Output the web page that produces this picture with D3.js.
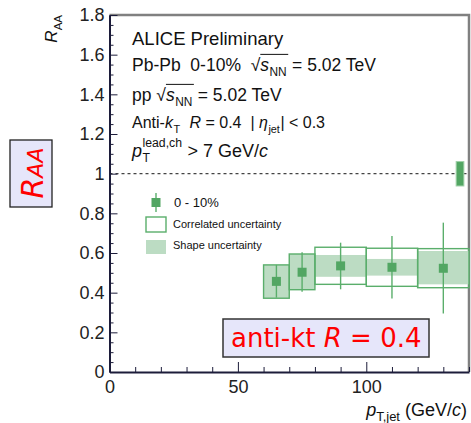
<!DOCTYPE html>
<html>
<head>
<meta charset="UTF-8">
<title>RAA anti-kt R=0.4</title>
<script src="https://d3js.org/d3.v7.min.js"></script>
<style>
  body { margin: 0; background: #fff; }
  text { font-family: "Liberation Sans", Arial, sans-serif; }
</style>
</head>
<body>
<div id="chart"></div>
<script>
// bins in pT,jet (GeV/c)
const binLo   = [60, 70, 80, 100, 120];
const binHi   = [70, 80, 100, 120, 140];
const binMid  = [65, 75, 90, 110, 130];
const raa     = [0.457, 0.503, 0.535, 0.528, 0.523];
// statistical error bars
const statLo  = [0.375, 0.405, 0.417, 0.370, 0.295];
const statHi  = [0.540, 0.604, 0.652, 0.686, 0.753];
// correlated uncertainty (open boxes)
const corrLo  = [0.372, 0.415, 0.442, 0.432, 0.425];
const corrHi  = [0.540, 0.595, 0.629, 0.624, 0.622];
// shape uncertainty (filled boxes)
const shapeLo = [0.372, 0.415, 0.480, 0.486, 0.442];
const shapeHi = [0.540, 0.595, 0.590, 0.570, 0.610];
// normalisation uncertainty at unity
const normX   = [135, 138];
const normY   = [0.938, 1.061];

const yTicks = [0, 0.2, 0.4, 0.6, 0.8, 1, 1.2, 1.4, 1.6, 1.8];
const xTicks = [0, 50, 100];

const W = 471, H = 423;
const green = "#52a663", greenLine = "#5aae6b", greenFill = "#bcdcc3";

const svg = d3.select("#chart").append("svg")
    .attr("width", W).attr("height", H);

const x = d3.scaleLinear().domain([0, 140]).range([109.5, 469]);
const y = d3.scaleLinear().domain([0, 1.8]).range([372, 15]);

// frame top / right
svg.append("path")
    .attr("d", `M${x(0)},${y(1.8)}H${x(140)}V${y(0)}`)
    .attr("fill", "none").attr("stroke", "#808080").attr("stroke-width", 2.5);

// dotted unity line
svg.append("line")
    .attr("x1", x(0)).attr("x2", x(140)).attr("y1", y(1)).attr("y2", y(1))
    .attr("stroke", "#444").attr("stroke-width", 1.3).attr("stroke-dasharray", "3,3");

// axes
const fmtY = d => d === 0 ? "0" : d === 1 ? "1" : d.toFixed(1);
const yMinor = d3.range(0, 1.8001, 0.05).filter(v => Math.abs(v * 5 - Math.round(v * 5)) > 1e-6);
const xMinor = d3.range(0, 141, 10).filter(v => v % 50 !== 0);

svg.append("g").attr("transform", `translate(${x(0)},0)`)
    .call(d3.axisLeft(y).tickValues(yMinor).tickSize(-4).tickSizeOuter(0).tickFormat(""))
    .call(g => g.select(".domain").remove());
const gy = svg.append("g").attr("transform", `translate(${x(0)},0)`)
    .call(d3.axisLeft(y).tickValues(yTicks).tickSizeInner(-8).tickSizeOuter(0).tickPadding(5).tickFormat(fmtY));
gy.selectAll("text").attr("font-size", 18).attr("fill", "#222").style("font-family", "Liberation Sans, Arial, sans-serif");

svg.append("g").attr("transform", `translate(0,${y(0)})`)
    .call(d3.axisBottom(x).tickValues(xMinor).tickSize(-5).tickSizeOuter(0).tickFormat(""))
    .call(g => g.select(".domain").remove());
const gx = svg.append("g").attr("transform", `translate(0,${y(0)})`)
    .call(d3.axisBottom(x).tickValues(xTicks).tickSizeInner(-10).tickSizeOuter(0).tickPadding(8));
gx.selectAll("text").attr("font-size", 18).attr("fill", "#222").style("font-family", "Liberation Sans, Arial, sans-serif");

svg.selectAll(".tick line").attr("stroke", "#1c1c3a").attr("stroke-width", 1);
svg.selectAll(".domain").attr("stroke", "#1c1c3a").attr("stroke-width", 2);

// data marks
const idx = d3.range(binMid.length);
svg.append("g").selectAll("rect").data(idx).join("rect")
    .attr("x", i => x(binLo[i])).attr("width", i => x(binHi[i]) - x(binLo[i]))
    .attr("y", i => y(shapeHi[i])).attr("height", i => y(shapeLo[i]) - y(shapeHi[i]))
    .attr("fill", greenFill);
svg.append("g").selectAll("rect").data(idx).join("rect")
    .attr("x", i => x(binLo[i])).attr("width", i => x(binHi[i]) - x(binLo[i]))
    .attr("y", i => y(corrHi[i])).attr("height", i => y(corrLo[i]) - y(corrHi[i]))
    .attr("fill", "none").attr("stroke", greenLine).attr("stroke-width", 1.4);
svg.append("g").selectAll("line").data(idx).join("line")
    .attr("x1", i => x(binMid[i])).attr("x2", i => x(binMid[i]))
    .attr("y1", i => y(statLo[i])).attr("y2", i => y(statHi[i]))
    .attr("stroke", greenLine).attr("stroke-width", 1.4);
svg.append("g").selectAll("rect").data(idx).join("rect")
    .attr("x", i => x(binMid[i]) - 4.5).attr("y", i => y(raa[i]) - 4.5)
    .attr("width", 9).attr("height", 9).attr("fill", green);

svg.append("rect")
    .attr("x", x(normX[0])).attr("width", x(normX[1]) - x(normX[0]))
    .attr("y", y(normY[1])).attr("height", y(normY[0]) - y(normY[1]))
    .attr("fill", green).attr("stroke", "#9fd0a8").attr("stroke-width", 1);

// rich text helper: main text, then optional sub/sup stacked after it
function rich(x0, y0, size, parts) {
  let cx = x0;
  let ovStart = null;
  const put = (str, px, py, s, it, p) => {
    const t = svg.append("text").attr("x", px).attr("y", py)
        .attr("font-size", s).attr("fill", p.fill || "#111")
        .style("font-style", it ? "italic" : "normal")
        .style("white-space", "pre").text(str);
    if (p.font) t.style("font-family", p.font);
    return t.node().getComputedTextLength();
  };
  parts.forEach(p => {
    if (p.ovStart) ovStart = cx;
    if (p.t !== undefined) cx += put(p.t, cx, y0, size, p.it, p);
    let w = 0;
    if (p.sub !== undefined) w = Math.max(w, put(p.sub, cx + 0.5, y0 + size * 0.3, size * 0.68, false, p));
    if (p.sup !== undefined) w = Math.max(w, put(p.sup, cx + 0.5, y0 - size * 0.55, size * 0.68, false, p));
    cx += w ? w + 1 : 0;
    if (p.ovEnd) {
      svg.append("line").attr("x1", ovStart).attr("x2", cx + 1)
          .attr("y1", y0 - size * 0.95).attr("y2", y0 - size * 0.95)
          .attr("stroke", "#111").attr("stroke-width", 1);
    }
  });
  return cx;
}

const sqrtS = [
  { t: "\u221A" },
  { t: "s", it: true, sub: "NN", ovStart: true, ovEnd: true }
];
rich(132, 45, 18.5, [{ t: "ALICE Preliminary" }]);
rich(132, 71, 17.5, [{ t: "Pb-Pb  0-10%  " }, ...sqrtS, { t: " = 5.02 TeV" }]);
rich(132, 101, 17.5, [{ t: "pp " }, ...sqrtS, { t: " = 5.02 TeV" }]);
rich(132, 128, 16, [
  { t: "Anti-" }, { t: "k", it: true, sub: "T" }, { t: "  " }, { t: "R", it: true },
  { t: " = 0.4  | " }, { t: "\u03B7", it: true, sub: "jet" }, { t: "| < 0.3" }
]);
rich(132, 157, 18, [{ t: "p", it: true, sub: "T", sup: "lead,ch" }, { t: " > 7 GeV/" }, { t: "c", it: true }]);

// legend
svg.append("line").attr("x1", 156).attr("x2", 156).attr("y1", 193).attr("y2", 212)
    .attr("stroke", greenLine).attr("stroke-width", 1.4);
svg.append("rect").attr("x", 151.5).attr("y", 198).attr("width", 9).attr("height", 9).attr("fill", green);
svg.append("text").attr("x", 174).attr("y", 207).attr("font-size", 13).attr("fill", "#111").text("0 - 10%");
svg.append("rect").attr("x", 146).attr("y", 217).attr("width", 20).attr("height", 15)
    .attr("fill", "none").attr("stroke", greenLine).attr("stroke-width", 1.4);
svg.append("text").attr("x", 173).attr("y", 228).attr("font-size", 11).attr("fill", "#111").text("Correlated uncertainty");
svg.append("rect").attr("x", 146).attr("y", 240).attr("width", 20).attr("height", 14).attr("fill", greenFill);
svg.append("text").attr("x", 173).attr("y", 249).attr("font-size", 11).attr("fill", "#111").text("Shape uncertainty");

// axis titles
const yt = svg.append("g").attr("transform", "translate(57,15) rotate(-90)");
yt.append("text").attr("text-anchor", "end").attr("font-size", 17).attr("fill", "#111")
    .call(t => {
      t.append("tspan").style("font-style", "italic").text("R");
      t.append("tspan").attr("font-size", 11.5).attr("dy", 5).text("AA");
    });
const xt = svg.append("text").attr("x", 467).attr("y", 416).attr("text-anchor", "end")
    .attr("font-size", 18).attr("fill", "#111");
xt.append("tspan").style("font-style", "italic").text("p");
xt.append("tspan").attr("font-size", 13).attr("dy", 5).text("T,jet");
xt.append("tspan").attr("dy", -5).text(" (GeV/");
xt.append("tspan").style("font-style", "italic").text("c");
xt.append("tspan").text(")");

// red boxes
svg.append("rect").attr("x", 10).attr("y", 140).attr("width", 42).attr("height", 67)
    .attr("fill", "#e6e6fa").attr("stroke", "#222").attr("stroke-width", 1.3);
const rt = svg.append("g").attr("transform", "translate(43,173) rotate(-90)");
rt.append("text").attr("text-anchor", "middle").attr("fill", "#ff0000")
    .style("font-family", "DejaVu Sans, sans-serif").style("font-style", "italic")
    .call(t => {
      t.append("tspan").attr("font-size", 30).text("R");
      t.append("tspan").attr("font-size", 22).text("AA");
    });

svg.append("rect").attr("x", 223).attr("y", 319).attr("width", 206).attr("height", 38)
    .attr("fill", "#e6e6fa").attr("stroke", "#333").attr("stroke-width", 1.5);
rich(231, 347, 26, [
  { t: "anti-kt ", fill: "#ff0000", font: "DejaVu Sans, sans-serif" },
  { t: "R", it: true, fill: "#ff0000", font: "DejaVu Sans, sans-serif" },
  { t: " = 0.4", fill: "#ff0000", font: "DejaVu Sans, sans-serif" }
]);
</script>
</body>
</html>
